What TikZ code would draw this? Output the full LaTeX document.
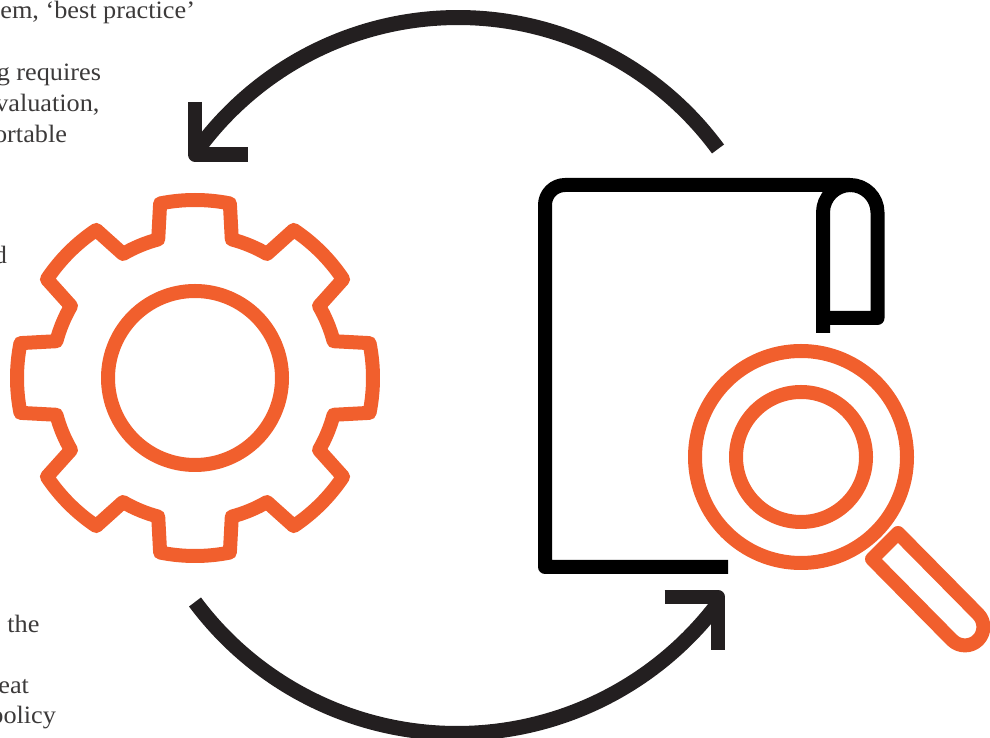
\documentclass[tikz,border=0pt]{standalone}
\usepackage{fontspec}
\setmainfont[FakeStretch=1.05]{Liberation Serif}
\definecolor{orng}{HTML}{F15F2D}
\definecolor{arrowk}{HTML}{231F20}
\definecolor{txt}{HTML}{3C3A3A}
\tikzset{
  x=1pt,y=1pt,
  orngline/.style={draw=orng,line width=14pt,line join=round},
  scrollline/.style={draw=black,line width=14pt,line join=round},
  arrowarc/.style={draw=arrowk,line width=15pt},
  arrowhead/.style={draw=arrowk,line width=14.5pt,line join=round},
  body/.style={font=\fontsize{25}{30}\selectfont,text=txt,anchor=base east,inner sep=0pt,outer sep=0pt}
}
\begin{document}
\begin{tikzpicture}
\useasboundingbox (0,0) rectangle (990,738);
% texts (y = 738 - pixel y)
\node[body] (t1) at (195,719) {em, ‘best practice’};
\node[body] (t2) at (101,657) {g requires};
\node[body] (t3) at (99.5,626) {valuation,};
\node[body] (t4) at (67,595) {ortable};
\node[body] (t5) at (7,474) {d};
\node[body] (t6) at (39.5,105) {the};
\node[body] (t7) at (29,44) {eat};
\node[body] (t8) at (56,14) {policy};
% top arrow
\draw[arrowarc] (718,589) arc[start angle=36.35,end angle=144.7,radius=322.8];
\draw[arrowhead] (195,636) -- (195,583.5) -- (248,583.5);
% bottom arrow
\draw[arrowarc] (195,136) arc[start angle=216.7,end angle=322.4,radius=326.8];
\draw[arrowhead] (664.5,141) -- (718,141) -- (718,88);
% gear
\begin{scope}[shift={(195,360)}]
\draw[orngline] (90+14.87:143.4)
  \foreach \a in {90,45,0,-45,-90,-135,180,135}{
    -- (\a+14.87:143.4) -- (\a+11.3:178)
    arc[start angle=\a+11.3,end angle=\a-11.3,radius=178]
    -- (\a-14.87:143.4)
    arc[start angle=\a-14.87,end angle=\a-30.13,radius=143.4]
  } -- cycle;
\draw[orngline] (0,0) circle[radius=87];
\end{scope}
% scroll
\draw[scrollline] (728,171) -- (545,171) -- (545,533)
  arc[start angle=180,end angle=90,radius=20] -- (850,553)
  arc[start angle=90,end angle=0,radius=27.5] -- (877.5,420) -- (823,420);
\draw[scrollline] (823,405) -- (823,525.5) arc[start angle=180,end angle=90,radius=27.5];
% magnifier
\draw[orngline] (801,281) circle[radius=106];
\draw[orngline] (801,281) circle[radius=65];
\draw[orngline] (898,205) -- (978,124) arc[start angle=45,end angle=-135,radius=18.4] -- (872,179) -- cycle;
\end{tikzpicture}
\end{document}
